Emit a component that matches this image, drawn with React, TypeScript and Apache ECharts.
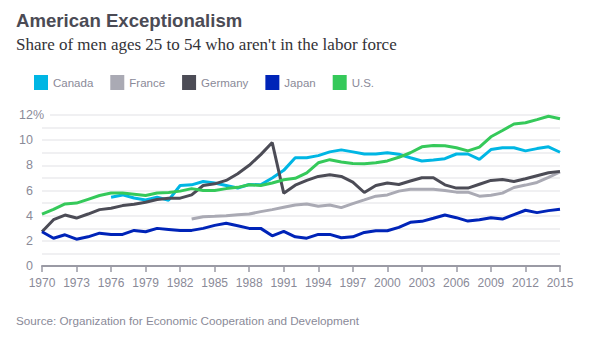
import React, { useEffect, useRef } from "react";
import * as echarts from "echarts";

const years: string[] = [];
for (let y = 1970; y <= 2015; y++) years.push(String(y));

const canada = [null, null, null, null, null, null,
  5.47, 5.65, 5.4, 5.25, 5.47, 5.23, 6.4, 6.45, 6.72, 6.6, 6.4, 6.2, 6.48, 6.45,
  7.0, 7.6, 8.6, 8.6, 8.77, 9.07, 9.23, 9.07, 8.9, 8.9,
  9.0, 8.88, 8.6, 8.35, 8.43, 8.53, 8.9, 8.9, 8.48, 9.25,
  9.4, 9.4, 9.15, 9.33, 9.47, 9.04];
const france = [null, null, null, null, null, null, null, null, null, null, null, null, null,
  3.73, 3.92, 3.95, 4.0, 4.08, 4.13, 4.32,
  4.48, 4.67, 4.85, 4.93, 4.75, 4.85, 4.64, 4.96, 5.25, 5.55,
  5.65, 5.95, 6.1, 6.1, 6.1, 6.0, 5.87, 5.87, 5.55, 5.63,
  5.79, 6.24, 6.43, 6.64, 7.04, 7.47];
const germany = [2.72, 3.68, 4.05, 3.81, 4.13, 4.48, 4.59, 4.8, 4.9, 5.07,
  5.28, 5.39, 5.39, 5.65, 6.4, 6.53, 6.8, 7.33, 8.0, 8.85,
  9.81, 5.79, 6.42, 6.8, 7.12, 7.25, 7.12, 6.67, 5.84, 6.4,
  6.59, 6.48, 6.75, 7.01, 7.01, 6.45, 6.19, 6.19, 6.5, 6.8,
  6.88, 6.72, 6.93, 7.17, 7.41, 7.52];
const japan = [2.72, 2.21, 2.48, 2.13, 2.32, 2.61, 2.51, 2.51, 2.83, 2.72,
  2.99, 2.91, 2.83, 2.83, 2.99, 3.23, 3.39, 3.2, 2.99, 2.99,
  2.4, 2.75, 2.32, 2.21, 2.51, 2.51, 2.24, 2.32, 2.67, 2.8,
  2.8, 3.07, 3.47, 3.55, 3.79, 4.05, 3.84, 3.57, 3.68, 3.84,
  3.73, 4.08, 4.43, 4.24, 4.4, 4.51];
const us = [4.13, 4.5, 4.93, 5.0, 5.3, 5.6, 5.8, 5.8, 5.7, 5.6,
  5.8, 5.85, 5.95, 6.15, 6.0, 6.0, 6.15, 6.25, 6.45, 6.4,
  6.6, 6.85, 6.97, 7.4, 8.2, 8.45, 8.27, 8.15, 8.13, 8.2,
  8.35, 8.64, 9.0, 9.47, 9.57, 9.55, 9.4, 9.15, 9.45, 10.27,
  10.77, 11.28, 11.39, 11.63, 11.9, 11.7];

const seriesNames = ["Canada", "France", "Germany", "Japan", "U.S."];
const seriesColors = ["#00b6e4", "#aaaab4", "#4c4c56", "#0024b8", "#35c95a"];
const seriesData = [canada, france, germany, japan, us];

const NARROW = "'Liberation Sans Narrow', 'Arial Narrow', 'Liberation Sans', Arial, sans-serif";
const GRAY = "#8a8a98";

export default function App() {
  const ref = useRef<HTMLDivElement>(null);
  useEffect(() => {
    if (!ref.current) return;
    const chart = echarts.init(ref.current, undefined, { renderer: "svg" });
    chart.setOption({
      animation: false,
      backgroundColor: "#ffffff",
      grid: { left: 42, right: 32, top: 115, bottom: 75 },
      legend: {
        left: 34,
        top: 75,
        padding: 0,
        icon: "rect",
        itemWidth: 14,
        itemHeight: 15,
        itemGap: 17,
        data: seriesNames,
        textStyle: { color: GRAY, fontSize: 11.5, fontFamily: NARROW },
      },
      xAxis: {
        type: "category",
        data: years,
        boundaryGap: false,
        axisLine: { lineStyle: { color: "#9a9aa4", width: 2 } },
        axisTick: { interval: 2, length: 6, lineStyle: { color: "#9a9aa4", width: 1.5 } },
        axisLabel: { interval: 2, color: GRAY, fontSize: 12, fontFamily: NARROW, margin: 11 },
        splitLine: { show: false },
      },
      yAxis: {
        type: "value",
        min: 0,
        max: 12,
        interval: 1,
        axisLine: { show: false },
        axisTick: { show: false },
        axisLabel: {
          color: GRAY,
          fontSize: 12.5,
          fontFamily: NARROW,
          margin: 9,
          formatter: (v: number) => (v % 2 === 0 ? String(v) : ""),
        },
        splitLine: { lineStyle: { color: "#f0f0f2", width: 2 } },
      },
      series: seriesNames.map((name, i) => ({
        name,
        type: "line",
        data: seriesData[i],
        symbol: "none",
        connectNulls: false,
        lineStyle: { width: 3, color: seriesColors[i] },
        itemStyle: { color: seriesColors[i] },
        z: i === 4 ? 3 : 2,
      })),
      graphic: [
        {
          type: "text",
          left: 16,
          top: 11,
          style: {
            text: "American Exceptionalism",
            fill: "#4b4b55",
            font: "bold 18.6px 'Liberation Sans', Arial, sans-serif",
          },
        },
        {
          type: "text",
          left: 16,
          top: 36,
          style: {
            text: "Share of men ages 25 to 54 who aren't in the labor force",
            fill: "#333338",
            font: "17px 'Liberation Serif', 'Times New Roman', serif",
          },
        },
        {
          type: "rect",
          shape: { x: 33, y: 112, width: 17, height: 6 },
          style: { fill: "#ffffff" },
          z: 10,
        },
        {
          type: "text",
          x: 33,
          y: 115,
          style: {
            text: "%",
            fill: GRAY,
            font: "12.5px " + NARROW,
            verticalAlign: "middle",
            align: "left",
          },
          z: 11,
        },
        {
          type: "text",
          left: 16,
          top: 314,
          style: {
            text: "Source: Organization for Economic Cooperation and Development",
            fill: GRAY,
            font: "11.7px 'Liberation Sans', Arial, sans-serif",
          },
        },
      ],
    });
    return () => chart.dispose();
  }, []);
  return (
    <div
      ref={ref}
      style={{ position: "absolute", left: 0, top: 0, width: 592, height: 341 }}
    />
  );
}
